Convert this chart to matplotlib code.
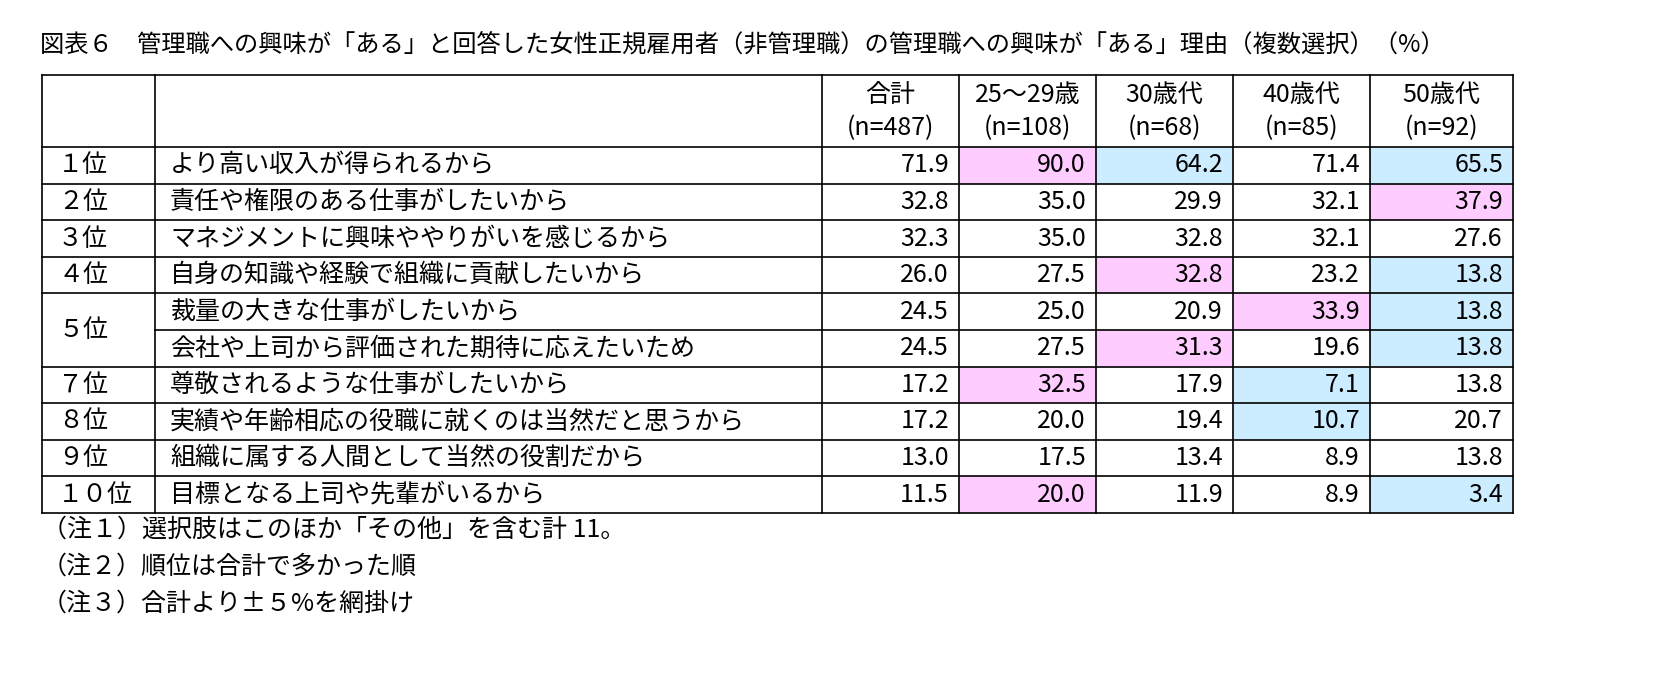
import matplotlib.pyplot as plt
from matplotlib.patches import Rectangle

plt.rcParams['font.family'] = 'Noto Sans CJK JP'

title = '図表６　管理職への興味が「ある」と回答した女性正規雇用者（非管理職）の管理職への興味が「ある」理由（複数選択）（%）'
col_heads = ['合計', '25～29歳', '30歳代', '40歳代', '50歳代']
col_ns = ['(n=487)', '(n=108)', '(n=68)', '(n=85)', '(n=92)']
ranks = ['１位', '２位', '３位', '４位', '５位', '', '７位', '８位', '９位', '１０位']
reasons = ['より高い収入が得られるから', '責任や権限のある仕事がしたいから',
           'マネジメントに興味ややりがいを感じるから', '自身の知識や経験で組織に貢献したいから',
           '裁量の大きな仕事がしたいから', '会社や上司から評価された期待に応えたいため',
           '尊敬されるような仕事がしたいから', '実績や年齢相応の役職に就くのは当然だと思うから',
           '組織に属する人間として当然の役割だから', '目標となる上司や先輩がいるから']
values = [[71.9, 90.0, 64.2, 71.4, 65.5],
          [32.8, 35.0, 29.9, 32.1, 37.9],
          [32.3, 35.0, 32.8, 32.1, 27.6],
          [26.0, 27.5, 32.8, 23.2, 13.8],
          [24.5, 25.0, 20.9, 33.9, 13.8],
          [24.5, 27.5, 31.3, 19.6, 13.8],
          [17.2, 32.5, 17.9, 7.1, 13.8],
          [17.2, 20.0, 19.4, 10.7, 20.7],
          [13.0, 17.5, 13.4, 8.9, 13.8],
          [11.5, 20.0, 11.9, 8.9, 3.4]]
notes = ['（注１）選択肢はこのほか「その他」を含む計 11。', '（注２）順位は合計で多かった順',
         '（注３）合計より±５%を網掛け']

PINK, BLUE = '#FFCCFF', '#CCECFF'

fig = plt.figure(figsize=(16.63, 6.84), dpi=100)
ax = fig.add_axes([0, 0, 1, 1])
ax.set_xlim(0, 1663); ax.set_ylim(684, 0); ax.axis('off')

xs = [42, 155, 822, 959, 1096, 1233, 1370, 1513]
y_top, y_head = 75, 147
rh = (513 - 147) / 10
ys = [y_head + i * rh for i in range(11)]
fs = 18

ax.text(40, 45, title, fontsize=17.5, va='center')
for j, (h, n) in enumerate(zip(col_heads, col_ns)):
    cx = (xs[j + 2] + xs[j + 3]) / 2
    ax.text(cx, 95, h, ha='center', va='center', fontsize=fs)
    ax.text(cx, 128, n, ha='center', va='center', fontsize=fs)

for i in range(10):
    total = values[i][0]
    for j, v in enumerate(values[i]):
        x0, x1 = xs[j + 2], xs[j + 3]
        if j > 0 and v - total >= 5:
            ax.add_patch(Rectangle((x0, ys[i]), x1 - x0, rh, color=PINK, lw=0))
        elif j > 0 and total - v >= 5:
            ax.add_patch(Rectangle((x0, ys[i]), x1 - x0, rh, color=BLUE, lw=0))
        ax.text(x1 - 10, ys[i] + rh / 2, f'{v:.1f}', ha='right', va='center', fontsize=fs)
    ax.text(170, ys[i] + rh / 2, reasons[i], va='center', fontsize=fs)
    yr = ys[i] + rh / 2 if i != 4 else ys[5]
    if ranks[i]:
        ax.text(58, yr, ranks[i], va='center', fontsize=fs)

lk = dict(color='black', lw=1.2)
ax.plot([xs[0], xs[-1]], [y_top, y_top], **lk)
for y in ys:
    x_start = xs[1] if abs(y - ys[5]) < 1e-6 else xs[0]
    ax.plot([x_start, xs[-1]], [y, y], **lk)
for x in xs:
    ax.plot([x, x], [y_top, ys[-1]], **lk)

for k, t in enumerate(notes):
    ax.text(42, 530 + k * 37, t, va='center', fontsize=fs)

fig.savefig('out.png', dpi=100)
